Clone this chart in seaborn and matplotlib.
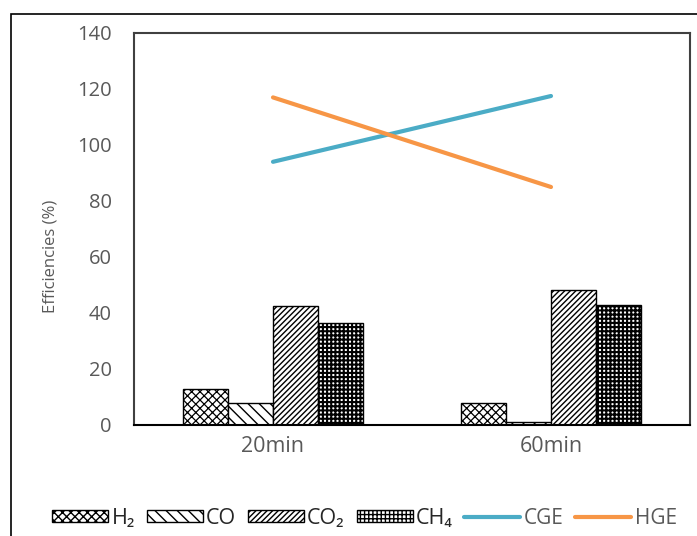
import numpy as np
import pandas as pd
import matplotlib
matplotlib.use("Agg")
import matplotlib.pyplot as plt
import seaborn as sns
from matplotlib.patches import Patch, Rectangle
from matplotlib.lines import Line2D

# ---- data ----
times = ["20min", "60min"]
gases = ["H₂", "CO", "CO₂", "CH₄"]
h2 = [13, 8]
co = [8, 1]
co2 = [42.5, 48.2]
ch4 = [36.4, 42.9]
metrics = ["CGE", "HGE"]
cge = [94, 117.5]
hge = [117, 85]

sns.set_theme(style="white")
plt.rcParams['font.family'] = ['Open Sans', 'DejaVu Sans']
plt.rcParams['hatch.linewidth'] = 1.0

bar_df = pd.DataFrame({
    "time": times * 4,
    "gas": [g for g in gases for _ in times],
    "value": h2 + co + co2 + ch4,
})
line_df = pd.DataFrame({
    "time": times * 2,
    "metric": [m for m in metrics for _ in times],
    "value": cge + hge,
})

fig = plt.figure(figsize=(6.97, 5.36), dpi=100)
ax = fig.add_axes([134/697, (536-425)/536, (690-134)/697, (425-33)/536])

hatches = ["xxxx", "\\\\\\", "//////", "++++"]
hatch_lw = [0.9, 1.0, 1.0, 1.5]
sns.barplot(data=bar_df, x="time", y="value", hue="gas", hue_order=gases,
            order=times, width=0.65, gap=0, ax=ax, legend=False,
            palette=["white"] * 4, edgecolor="black", linewidth=1.0)
for i, cont in enumerate(ax.containers):
    for p in cont.patches:
        p.set_hatch(hatches[i])
        p.set_edgecolor("black")
        if hasattr(p, "set_hatch_linewidth"):
            p.set_hatch_linewidth(hatch_lw[i])

line_colors = ["#4BACC6", "#F79646"]
sns.pointplot(data=line_df, x="time", y="value", hue="metric", order=times,
              hue_order=metrics, palette=line_colors, markers="",
              dodge=False, ax=ax, legend=False, linewidth=3.0, errorbar=None)

ax.set_ylim(0, 140)
ax.set_yticks(np.arange(0, 141, 20))
ax.set_xlabel("")
ax.set_ylabel("Efficiencies (%)", fontsize=12, color="#595959")
ax.yaxis.set_label_coords(-0.135, 0.431)
ax.tick_params(axis="y", labelsize=14.5, colors="#595959", length=0, pad=16)
ax.tick_params(axis="x", labelsize=15.5, colors="#595959", length=0, pad=8)
for s in ax.spines.values():
    s.set_visible(True)
    s.set_color("#404040")
    s.set_linewidth(1.5)
ax.spines["bottom"].set_color("black")

# outer figure border
fig.add_artist(Rectangle((11/697, -0.05), 1.2, (536-14)/536 + 0.05,
                         transform=fig.transFigure, fill=False,
                         edgecolor="black", linewidth=1.2))

handles = []
for h, lw in zip(hatches, hatch_lw):
    ph = Patch(facecolor="white", edgecolor="black", hatch=h, linewidth=1.0)
    if hasattr(ph, "set_hatch_linewidth"):
        ph.set_hatch_linewidth(lw)
    handles.append(ph)
handles += [Line2D([0], [0], color=c, lw=3.0) for c in line_colors]
labels = gases + metrics
leg = fig.legend(handles, labels, loc="center", bbox_to_anchor=(0.523, 0.033),
                 ncol=6, frameon=False, fontsize=15.5, handlelength=2.6,
                 handleheight=0.5, handletextpad=0.15, columnspacing=0.55)
for i, t in enumerate(leg.get_texts()):
    if i < 4:
        t.set_color("#262626")
    else:
        t.set_color("#595959")
        t.set_fontsize(15)

fig.savefig("out.png", dpi=100)
